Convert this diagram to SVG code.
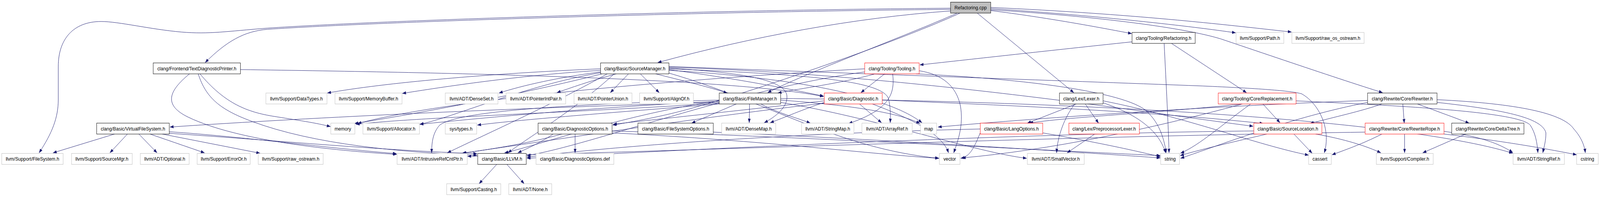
<svg xmlns="http://www.w3.org/2000/svg" width="4585" height="504" viewBox="0 0 4585 504" preserveAspectRatio="none">
<style>
:root{width:100%;height:100%;display:block}
.e path{fill:none;stroke:#191970;stroke-width:1;marker-end:url(#a)}
.n rect{fill:#fff;stroke:#000;stroke-width:1}
.n.g rect{stroke:#bfbfbf}
.n.r rect{stroke:#ff0000}
.n.root rect{fill:#bfbfbf;stroke:#000}
text{font-family:"Liberation Sans",Arial,Helvetica,sans-serif;font-size:13.2px;text-anchor:middle;fill:#000}
</style>
<defs>
<marker id="a" markerUnits="userSpaceOnUse" markerWidth="11" markerHeight="8" refX="10.5" refY="4" orient="auto"><path d="M0,0L11,4L0,8z" fill="#191970"/></marker>
</defs>
<rect width="4585" height="504" fill="#fff"/>
<g id="edges" class="e">
<path d="M2724,21 C2000,26 1100,52 766,72 C650,80 600,88 520,82 C430,75 340,55 290,55 C210,55 167,100 167,170 L167,255 C167,300 150,340 112,391"/>
<path d="M2724,24 C2000,30 1100,55 766,75 C700,80 650,105 588,160"/>
<path d="M2724,28 C2450,45 2150,95 1885,160"/>
<path d="M2742,34 C2600,90 2300,190 2200,237"/>
<path d="M2750,34 C2550,115 2150,235 1990,275 C1900,298 1810,312 1756,320"/>
<path d="M2801,34 L3077,237"/>
<path d="M2839,27 C3000,45 3150,70 3243,86"/>
<path d="M2839,22 C3150,40 3420,68 3541,84"/>
<path d="M2839,19 C3250,36 3500,62 3701,82"/>
<path d="M2839,25 C3150,42 3400,72 3500,100 C3650,145 3830,200 3962,237"/>
<path d="M3244,107 C3000,130 2800,150 2636,166"/>
<path d="M3336,111 C3342,220 3348,320 3350,391"/>
<path d="M3357,111 L3572,237"/>
<path d="M689,178 C1300,186 2100,200 2360,247"/>
<path d="M543,189 C480,235 470,270 540,300 C680,360 950,385 1137,395"/>
<path d="M568,189 C590,250 630,280 720,310 C900,370 1150,390 1367,397"/>
<path d="M573,189 C640,260 700,285 780,297 C850,307 910,315 947,324"/>
<path d="M1721,176 C1400,188 1100,212 938,238"/>
<path d="M1721,180 C1500,192 1300,218 1153,239"/>
<path d="M1721,184 C1600,198 1500,218 1430,238"/>
<path d="M1766,189 C1700,205 1650,220 1596,237"/>
<path d="M1801,189 L1749,237"/>
<path d="M1835,189 L1889,237"/>
<path d="M1879,189 C1950,205 2030,222 2084,238"/>
<path d="M1917,178 C2100,200 2250,225 2360,246"/>
<path d="M1917,172 C2600,190 3300,290 3591,323"/>
<path d="M1740,189 C1600,260 1400,340 1282,391"/>
<path d="M1760,189 C1650,280 1500,360 1456,391"/>
<path d="M1721,186 C1500,220 1300,300 1203,318"/>
<path d="M1725,189 C1500,240 1200,290 1016,316"/>
<path d="M1917,180 C2300,200 2550,250 2642,314"/>
<path d="M1917,187 C2200,260 2400,380 2691,405"/>
<path d="M1917,170 C2500,190 3000,205 3447,220 C3600,226 3700,232 3730,240 C3780,265 3815,330 3795,391"/>
<path d="M1917,176 C2300,190 2520,205 2545,250 C2552,270 2552,295 2551,314"/>
<path d="M1917,174 C2100,185 2250,200 2255,245 C2258,275 2220,300 2190,314"/>
<path d="M2535,189 L2467,237"/>
<path d="M2558,189 C2565,240 2550,280 2432,316"/>
<path d="M2508,189 C2400,215 2300,225 2229,238"/>
<path d="M2478,184 C2100,230 1700,370 1510,398"/>
<path d="M2478,176 C2000,200 1300,250 1025,316"/>
<path d="M2634,181 C2700,190 2740,220 2752,270 C2762,320 2745,360 2733,391"/>
<path d="M2625,189 C2900,200 3200,230 3280,280 C3320,310 3335,350 3342,391"/>
<path d="M2463,266 L2526,314"/>
<path d="M2362,262 C2300,280 2250,300 2207,314"/>
<path d="M2362,258 C2100,285 1880,305 1757,318"/>
<path d="M2362,264 C2000,300 1500,370 1324,392"/>
<path d="M2528,256 C2900,270 3300,285 3620,316"/>
<path d="M2500,266 C2600,300 2700,340 2718,391"/>
<path d="M2110,266 L1982,315"/>
<path d="M2148,266 L2147,314"/>
<path d="M2061,262 C1500,275 900,300 487,325"/>
<path d="M2061,258 C1800,290 1550,370 1446,391"/>
<path d="M2061,256 C1700,265 1320,280 1260,320 C1240,340 1237,365 1237,391"/>
<path d="M2237,262 C2500,300 2800,390 2942,405"/>
<path d="M2180,266 C2230,290 2280,300 2322,315"/>
<path d="M2237,252 C3000,258 4000,300 4335,392"/>
<path d="M2061,259 C1700,275 1400,300 1203,318"/>
<path d="M2061,264 C1600,290 1200,300 1020,318"/>
<path d="M2061,266 C1800,285 1500,305 1368,320"/>
<path d="M2237,256 C2450,270 2580,290 2636,316"/>
<path d="M2044,338 C2600,360 3100,390 3325,404"/>
<path d="M1648,343 L1648,391"/>
<path d="M1585,343 C1550,365 1510,380 1484,391"/>
<path d="M1610,343 C1500,370 1400,382 1326,392"/>
<path d="M1754,335 C2300,350 3000,385 3325,398"/>
<path d="M1754,340 C2200,360 2500,395 2690,405"/>
<path d="M3084,266 L2944,315"/>
<path d="M3110,266 L3148,315"/>
<path d="M3080,266 C3050,300 3030,350 3028,391"/>
<path d="M3161,263 C3250,290 3320,330 3340,391"/>
<path d="M3161,258 C3400,300 3600,370 3750,397"/>
<path d="M2988,340 C3150,365 3250,385 3325,401"/>
<path d="M2809,340 C2790,380 2780,400 2753,405"/>
<path d="M2809,330 C2300,340 1800,370 1510,402"/>
<path d="M3137,343 L3058,391"/>
<path d="M3708,343 L3760,392"/>
<path d="M3630,343 C3550,360 3450,380 3382,398"/>
<path d="M3770,343 C3850,355 3920,375 3957,391"/>
<path d="M3593,335 C3000,340 2000,380 1510,405"/>
<path d="M3619,266 L3668,314"/>
<path d="M3560,266 C3300,290 3050,300 2950,315"/>
<path d="M3584,266 C3500,320 3440,370 3383,392"/>
<path d="M3560,266 C3300,330 3000,385 2757,404"/>
<path d="M3714,258 C4000,270 4350,285 4385,320 C4400,340 4405,365 4407,391"/>
<path d="M4020,266 L4024,315"/>
<path d="M4062,266 L4210,315"/>
<path d="M3960,266 C3900,285 3820,300 3754,316"/>
<path d="M3919,257 C3500,270 3000,300 2688,325"/>
<path d="M3919,262 C3700,300 3500,370 3383,405"/>
<path d="M4118,255 C4350,265 4480,290 4510,330 C4530,350 4540,370 4543,391"/>
<path d="M4118,262 C4300,280 4420,300 4430,340 C4430,360 4425,375 4421,391"/>
<path d="M4025,343 L4025,391"/>
<path d="M3912,338 C3000,350 2000,385 1340,400"/>
<path d="M4138,336 C4250,350 4300,370 4335,390"/>
<path d="M4138,343 C4300,360 4430,380 4518,396"/>
<path d="M3960,343 C3900,370 3850,385 3817,396"/>
<path d="M4200,343 L4077,391"/>
<path d="M328,343 L152,391"/>
<path d="M365,343 L315,391"/>
<path d="M398,343 L450,391"/>
<path d="M430,343 L586,391"/>
<path d="M465,343 L745,392"/>
<path d="M485,337 C700,350 950,380 1136,393"/>
<path d="M485,341 C800,360 1100,385 1367,393"/>
<path d="M1423,421 L1373,470"/>
<path d="M1453,421 L1502,470"/>
</g>
<g id="n0" class="n root"><rect x="2724" y="5.5" width="115" height="28"/><text x="2781.5" y="24.2">Refactoring.cpp</text></g>
<g id="n1" class="n"><rect x="3244" y="83" width="181" height="28"/><text x="3334.5" y="101.7">clang/Tooling/Refactoring.h</text></g>
<g id="n2" class="n g"><rect x="3542" y="83" width="137" height="28"/><text x="3610.5" y="101.7">llvm/Support/Path.h</text></g>
<g id="n3" class="n g"><rect x="3702" y="83" width="207" height="28"/><text x="3805.5" y="101.7">llvm/Support/raw_os_ostream.h</text></g>
<g id="n4" class="n"><rect x="439" y="161" width="250" height="28"/><text x="564" y="179.7">clang/Frontend/TextDiagnosticPrinter.h</text></g>
<g id="n5" class="n"><rect x="1721" y="161" width="196" height="28"/><text x="1819" y="179.7">clang/Basic/SourceManager.h</text></g>
<g id="n6" class="n r"><rect x="2478" y="161" width="156" height="28"/><text x="2556" y="179.7">clang/Tooling/Tooling.h</text></g>
<g id="n7" class="n g"><rect x="762" y="238" width="175" height="28"/><text x="849.5" y="256.7">llvm/Support/DataTypes.h</text></g>
<g id="n8" class="n g"><rect x="960" y="238" width="192" height="28"/><text x="1056" y="256.7">llvm/Support/MemoryBuffer.h</text></g>
<g id="n9" class="n g"><rect x="1276" y="238" width="151" height="28"/><text x="1351.5" y="256.7">llvm/ADT/DenseSet.h</text></g>
<g id="n10" class="n g"><rect x="1450" y="238" width="171" height="28"/><text x="1535.5" y="256.7">llvm/ADT/PointerIntPair.h</text></g>
<g id="n11" class="n g"><rect x="1645" y="238" width="166" height="28"/><text x="1728" y="256.7">llvm/ADT/PointerUnion.h</text></g>
<g id="n12" class="n g"><rect x="1833" y="238" width="154" height="28"/><text x="1910" y="256.7">llvm/Support/AlignOf.h</text></g>
<g id="n13" class="n"><rect x="2061" y="238" width="176" height="28"/><text x="2149" y="256.7">clang/Basic/FileManager.h</text></g>
<g id="n14" class="n r"><rect x="2362" y="238" width="166" height="28"/><text x="2445" y="256.7">clang/Basic/Diagnostic.h</text></g>
<g id="n15" class="n"><rect x="3036" y="238" width="125" height="28"/><text x="3098.5" y="256.7">clang/Lex/Lexer.h</text></g>
<g id="n16" class="n r"><rect x="3491" y="238" width="223" height="28"/><text x="3602.5" y="256.7">clang/Tooling/Core/Replacement.h</text></g>
<g id="n17" class="n"><rect x="3919" y="238" width="199" height="28"/><text x="4018.5" y="256.7">clang/Rewrite/Core/Rewriter.h</text></g>
<g id="n18" class="n"><rect x="277" y="315" width="208" height="28"/><text x="381" y="333.7">clang/Basic/VirtualFileSystem.h</text></g>
<g id="n19" class="n g"><rect x="948" y="315" width="69" height="28"/><text x="982.5" y="333.7">memory</text></g>
<g id="n20" class="n g"><rect x="1040" y="315" width="162" height="28"/><text x="1121" y="333.7">llvm/Support/Allocator.h</text></g>
<g id="n21" class="n g"><rect x="1276" y="315" width="90" height="28"/><text x="1321" y="333.7">sys/types.h</text></g>
<g id="n22" class="n"><rect x="1542" y="315" width="212" height="28"/><text x="1648" y="333.7">clang/Basic/DiagnosticOptions.h</text></g>
<g id="n23" class="n"><rect x="1828" y="315" width="216" height="28"/><text x="1936" y="333.7">clang/Basic/FileSystemOptions.h</text></g>
<g id="n24" class="n g"><rect x="2068" y="315" width="155" height="28"/><text x="2145.5" y="333.7">llvm/ADT/DenseMap.h</text></g>
<g id="n25" class="n g"><rect x="2297" y="315" width="150" height="28"/><text x="2372" y="333.7">llvm/ADT/StringMap.h</text></g>
<g id="n26" class="n g"><rect x="2470" y="315" width="144" height="28"/><text x="2542" y="333.7">llvm/ADT/ArrayRef.h</text></g>
<g id="n27" class="n g"><rect x="2638" y="315" width="46" height="28"/><text x="2661" y="333.7">map</text></g>
<g id="n28" class="n r"><rect x="2809" y="315" width="179" height="28"/><text x="2898.5" y="333.7">clang/Basic/LangOptions.h</text></g>
<g id="n29" class="n r"><rect x="3063" y="315" width="202" height="28"/><text x="3164" y="333.7">clang/Lex/PreprocessorLexer.h</text></g>
<g id="n30" class="n r"><rect x="3593" y="315" width="195" height="28"/><text x="3690.5" y="333.7">clang/Basic/SourceLocation.h</text></g>
<g id="n31" class="n r"><rect x="3912" y="315" width="226" height="28"/><text x="4025" y="333.7">clang/Rewrite/Core/RewriteRope.h</text></g>
<g id="n32" class="n"><rect x="4160" y="315" width="207" height="28"/><text x="4263.5" y="333.7">clang/Rewrite/Core/DeltaTree.h</text></g>
<g id="n33" class="n g"><rect x="5" y="392.5" width="176" height="28"/><text x="93" y="411.2">llvm/Support/FileSystem.h</text></g>
<g id="n34" class="n g"><rect x="205" y="392.5" width="174" height="28"/><text x="292" y="411.2">llvm/Support/SourceMgr.h</text></g>
<g id="n35" class="n g"><rect x="402" y="392.5" width="140" height="28"/><text x="472" y="411.2">llvm/ADT/Optional.h</text></g>
<g id="n36" class="n g"><rect x="565" y="392.5" width="152" height="28"/><text x="641" y="411.2">llvm/Support/ErrorOr.h</text></g>
<g id="n37" class="n g"><rect x="740" y="392.5" width="186" height="28"/><text x="833" y="411.2">llvm/Support/raw_ostream.h</text></g>
<g id="n38" class="n g"><rect x="1138" y="392.5" width="201" height="28"/><text x="1238.5" y="411.2">llvm/ADT/IntrusiveRefCntPtr.h</text></g>
<g id="n39" class="n"><rect x="1369" y="392.5" width="139" height="28"/><text x="1438.5" y="411.2">clang/Basic/LLVM.h</text></g>
<g id="n40" class="n g"><rect x="1536" y="392.5" width="223" height="28"/><text x="1647.5" y="411.2">clang/Basic/DiagnosticOptions.def</text></g>
<g id="n41" class="n g"><rect x="2692" y="392.5" width="59" height="28"/><text x="2721.5" y="411.2">vector</text></g>
<g id="n42" class="n g"><rect x="2944" y="392.5" width="163" height="28"/><text x="3025.5" y="411.2">llvm/ADT/SmallVector.h</text></g>
<g id="n43" class="n g"><rect x="3326" y="392.5" width="54" height="28"/><text x="3353" y="411.2">string</text></g>
<g id="n44" class="n g"><rect x="3750" y="392.5" width="65" height="28"/><text x="3782.5" y="411.2">cassert</text></g>
<g id="n45" class="n g"><rect x="3944" y="392.5" width="163" height="28"/><text x="4025.5" y="411.2">llvm/Support/Compiler.h</text></g>
<g id="n46" class="n g"><rect x="4336" y="392.5" width="147" height="28"/><text x="4409.5" y="411.2">llvm/ADT/StringRef.h</text></g>
<g id="n47" class="n g"><rect x="4518" y="392.5" width="62" height="28"/><text x="4549" y="411.2">cstring</text></g>
<g id="n48" class="n g"><rect x="1280" y="470" width="155" height="28"/><text x="1357.5" y="488.7">llvm/Support/Casting.h</text></g>
<g id="n49" class="n g"><rect x="1458" y="470" width="123" height="28"/><text x="1519.5" y="488.7">llvm/ADT/None.h</text></g>
</svg>
